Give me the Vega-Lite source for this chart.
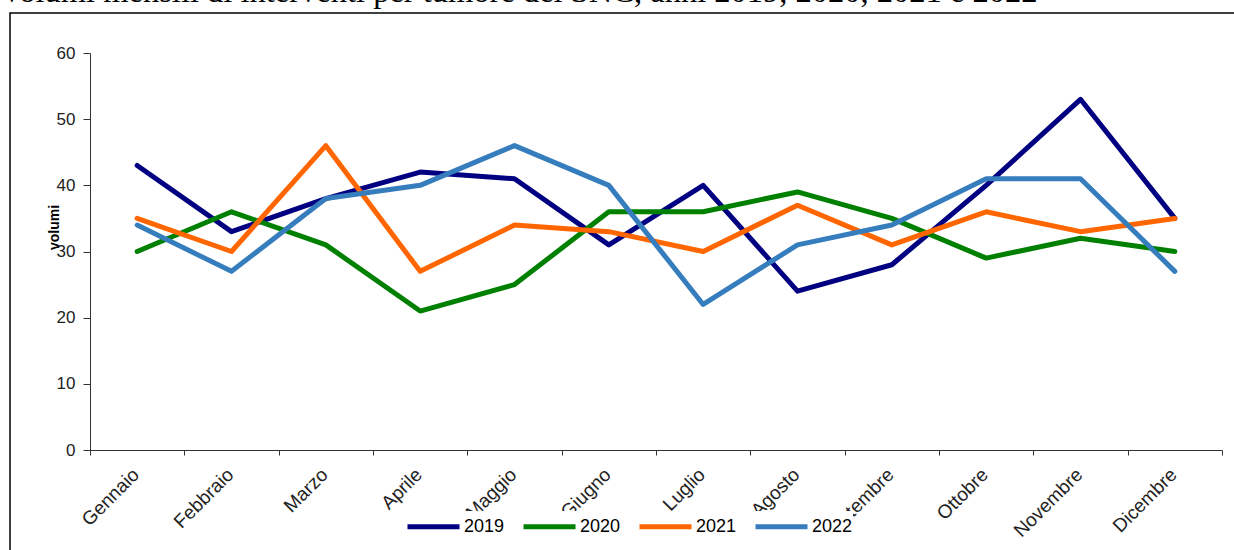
{
  "$schema": "https://vega.github.io/schema/vega-lite/v6.json",
  "autosize": {"type": "none"},
  "padding": {"left": 10, "top": 13, "right": 0, "bottom": 0},
  "width": 1240,
  "height": 545,
  "background": "white",
  "title": {
    "text": "Volumi mensili di interventi per tumore del SNC, anni 2019, 2020, 2021 e 2022",
    "font": "Liberation Serif",
    "fontSize": 32.5,
    "fontWeight": "normal",
    "color": "black",
    "anchor": "start",
    "frame": "group",
    "baseline": "alphabetic",
    "offset": 0,
    "dx": -10,
    "dy": 21
  },
  "config": {
    "view": {"stroke": "black", "strokeWidth": 1.5},
    "axis": {"grid": false, "domainColor": "#333", "tickColor": "#333", "labelFont": "Liberation Sans", "labelColor": "#222", "labelFontSize": 17}
  },
  "data": {
    "values": [
      {"mese": "Gennaio", "anno": "2019", "volumi": 43},
      {"mese": "Febbraio", "anno": "2019", "volumi": 33},
      {"mese": "Marzo", "anno": "2019", "volumi": 38},
      {"mese": "Aprile", "anno": "2019", "volumi": 42},
      {"mese": "Maggio", "anno": "2019", "volumi": 41},
      {"mese": "Giugno", "anno": "2019", "volumi": 31},
      {"mese": "Luglio", "anno": "2019", "volumi": 40},
      {"mese": "Agosto", "anno": "2019", "volumi": 24},
      {"mese": "Settembre", "anno": "2019", "volumi": 28},
      {"mese": "Ottobre", "anno": "2019", "volumi": 40},
      {"mese": "Novembre", "anno": "2019", "volumi": 53},
      {"mese": "Dicembre", "anno": "2019", "volumi": 35},
      {"mese": "Gennaio", "anno": "2020", "volumi": 30},
      {"mese": "Febbraio", "anno": "2020", "volumi": 36},
      {"mese": "Marzo", "anno": "2020", "volumi": 31},
      {"mese": "Aprile", "anno": "2020", "volumi": 21},
      {"mese": "Maggio", "anno": "2020", "volumi": 25},
      {"mese": "Giugno", "anno": "2020", "volumi": 36},
      {"mese": "Luglio", "anno": "2020", "volumi": 36},
      {"mese": "Agosto", "anno": "2020", "volumi": 39},
      {"mese": "Settembre", "anno": "2020", "volumi": 35},
      {"mese": "Ottobre", "anno": "2020", "volumi": 29},
      {"mese": "Novembre", "anno": "2020", "volumi": 32},
      {"mese": "Dicembre", "anno": "2020", "volumi": 30},
      {"mese": "Gennaio", "anno": "2021", "volumi": 35},
      {"mese": "Febbraio", "anno": "2021", "volumi": 30},
      {"mese": "Marzo", "anno": "2021", "volumi": 46},
      {"mese": "Aprile", "anno": "2021", "volumi": 27},
      {"mese": "Maggio", "anno": "2021", "volumi": 34},
      {"mese": "Giugno", "anno": "2021", "volumi": 33},
      {"mese": "Luglio", "anno": "2021", "volumi": 30},
      {"mese": "Agosto", "anno": "2021", "volumi": 37},
      {"mese": "Settembre", "anno": "2021", "volumi": 31},
      {"mese": "Ottobre", "anno": "2021", "volumi": 36},
      {"mese": "Novembre", "anno": "2021", "volumi": 33},
      {"mese": "Dicembre", "anno": "2021", "volumi": 35},
      {"mese": "Gennaio", "anno": "2022", "volumi": 34},
      {"mese": "Febbraio", "anno": "2022", "volumi": 27},
      {"mese": "Marzo", "anno": "2022", "volumi": 38},
      {"mese": "Aprile", "anno": "2022", "volumi": 40},
      {"mese": "Maggio", "anno": "2022", "volumi": 46},
      {"mese": "Giugno", "anno": "2022", "volumi": 40},
      {"mese": "Luglio", "anno": "2022", "volumi": 22},
      {"mese": "Agosto", "anno": "2022", "volumi": 31},
      {"mese": "Settembre", "anno": "2022", "volumi": 34},
      {"mese": "Ottobre", "anno": "2022", "volumi": 41},
      {"mese": "Novembre", "anno": "2022", "volumi": 41},
      {"mese": "Dicembre", "anno": "2022", "volumi": 27}
    ]
  },
  "mark": {"type": "line", "strokeWidth": 5, "strokeCap": "round", "strokeJoin": "round"},
  "encoding": {
    "x": {
      "field": "mese",
      "type": "nominal",
      "sort": ["Gennaio", "Febbraio", "Marzo", "Aprile", "Maggio", "Giugno", "Luglio", "Agosto", "Settembre", "Ottobre", "Novembre", "Dicembre"],
      "bandPosition": 0.5,
      "scale": {"type": "band", "range": [80, 1212], "paddingInner": 0, "paddingOuter": 0},
      "axis": {"title": null, "offset": -108, "labelAngle": -45, "tickBand": "extent", "tickSize": 5, "labelPadding": 10, "labelFontSize": 19, "labelOffset": -8}
    },
    "y": {
      "field": "volumi",
      "type": "quantitative",
      "scale": {"domain": [0, 60], "range": [437, 40], "nice": false},
      "axis": {"title": "volumi", "offset": -80, "values": [0, 10, 20, 30, 40, 50, 60], "tickSize": 7, "labelPadding": 8,
        "titleFont": "Liberation Sans", "titleFontSize": 14, "titleFontWeight": "bold", "titleColor": "black",
        "titleX": -36, "titleY": 214, "titleBaseline": "middle", "titleAlign": "center"}
    },
    "color": {
      "field": "anno",
      "type": "nominal",
      "scale": {"domain": ["2019", "2020", "2021", "2022"], "range": ["#000080", "#008000", "#FF6600", "#367DBE"]},
      "legend": {"title": null, "orient": "none", "legendX": 408, "legendY": 498, "direction": "horizontal",
        "fillColor": "white", "padding": 0,
        "symbolType": "M-2,0H2", "symbolSize": 676, "symbolStrokeWidth": 5, "labelFont": "Liberation Sans",
        "labelFontSize": 18, "labelColor": "black", "labelOffset": 15, "columnPadding": 8}
    }
  }
}
